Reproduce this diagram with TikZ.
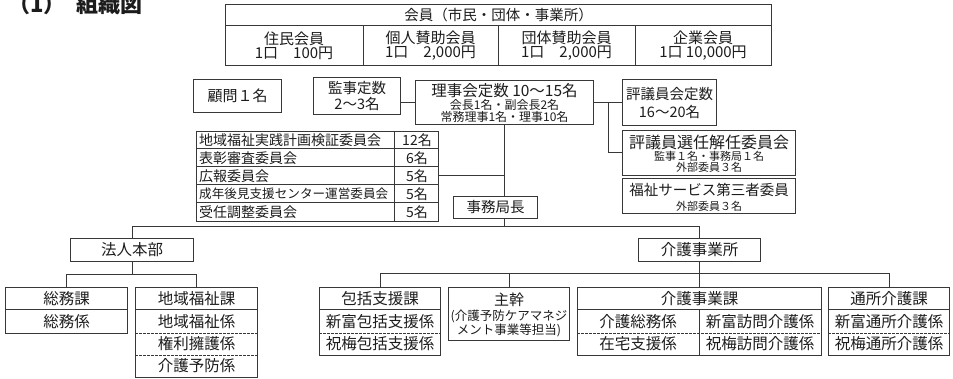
\documentclass[tikz,border=0pt]{standalone}
\usepackage{fontspec}
\setmainfont{Noto Sans CJK JP}
\usetikzlibrary{calc}
\definecolor{ln}{HTML}{383838}
\definecolor{tx}{HTML}{1C1C1C}
\newcommand\rowline[3]{\draw[#3] ($(#1.north west)+(0,#2)$) -- ($(#1.north east)+(0,#2)$);}
\newcommand\colline[4]{\draw[#4] ($(#1.north west)+(#2,#3)$) -- ($(#1.south west)+(#2,0)$);}
\begin{document}
\begin{tikzpicture}[x=1pt,y=-1pt,
  box/.style={draw=ln, line width=1pt, inner sep=0pt, anchor=north west},
  wh/.style 2 args={minimum width=#1pt, minimum height=#2pt},
  t/.style={inner sep=0pt, align=center, text=tx, font=\fontsize{15.5}{14}\selectfont},
  ts/.style={inner sep=0pt, align=center, text=tx, font=\fontsize{12}{11.7}\selectfont},
  tc/.style={inner sep=0pt, text=tx, font=\fontsize{14}{14}\selectfont},
  lnk/.style={draw=ln, line width=1pt},
  sl/.style={draw=ln, line width=1pt},
  dl/.style={draw=ln, line width=0.8pt, dash pattern=on 2.5pt off 1.5pt},
]
\useasboundingbox (0,0) rectangle (953,379);

% title
\node[inner sep=0pt, anchor=base west, text=tx, font=\fontsize{22}{22}\bfseries] (title) at (8,13) {（1）\hspace{11pt}組織図};

% membership table
\node[box, wh={546}{61}] (mem) at (225,4) {};
\rowline{mem}{22}{sl}
\colline{mem}{138}{22}{sl}
\colline{mem}{273}{22}{sl}
\colline{mem}{410}{22}{sl}
\node[t, font=\fontsize{14.5}{14}\selectfont] (memh) at ($(mem.north)+(0,11)$) {会員（市民・団体・事業所）};
\node[t, font=\fontsize{15}{14}\selectfont] (m1) at ($(mem.north west)+(69,42)$) {住民会員\\1口　100円};
\node[t, font=\fontsize{15}{14}\selectfont] (m2) at ($(mem.north west)+(205.5,42)$) {個人賛助会員\\1口　2,000円};
\node[t, font=\fontsize{15}{14}\selectfont] (m3) at ($(mem.north west)+(341.5,42)$) {団体賛助会員\\1口　2,000円};
\node[t, font=\fontsize{15}{14}\selectfont] (m4) at ($(mem.north west)+(478,42)$) {企業会員\\1口 10,000円};

% middle
\node[box, t, wh={88}{33}, font=\fontsize{15}{15}\selectfont] (kom) at (193,79) {顧問１名};
\node[box, t, wh={87}{37}, font=\fontsize{14.5}{16.5}\selectfont] (kan) at (313,77) {監事定数\\2～3名};
\node[box, wh={178}{44}] (rij) at (415,80) {};
\node[t, font=\fontsize{15.5}{15}\selectfont] (rijt) at ($(rij.north)+(0,11)$) {理事会定数 10～15名};
\node[ts] (rijs) at ($(rij.north)+(0,31)$) {会長1名・副会長2名\\常務理事1名・理事10名};
\node[box, t, wh={94}{46}, font=\fontsize{14.5}{18}\selectfont] (hyo) at (622,79) {評議員会定数\\16～20名};
\node[box, wh={173}{45}] (sen) at (622,130) {};
\node[t, font=\fontsize{16}{15}\selectfont] (sent) at ($(sen.north)+(0,12)$) {評議員選任解任委員会};
\node[ts, font=\fontsize{11}{10.5}\selectfont] (sens) at ($(sen.north)+(0,32)$) {監事１名・事務局１名\\外部委員３名};
\node[box, wh={173}{35}] (fuk) at (622,178) {};
\node[t, font=\fontsize{14.5}{14}\selectfont] (fukt) at ($(fuk.north)+(0,12)$) {福祉サービス第三者委員};
\node[ts, font=\fontsize{11}{11}\selectfont] (fuks) at ($(fuk.north)+(0,28)$) {外部委員３名};

\draw[lnk] (rij.west) -- (rij.west -| kan.east);
\draw[lnk] (rij.east) -- (rij.east -| hyo.west);
\coordinate (br) at ($(rij.east)!0.5!(rij.east -| hyo.west)$);
\draw[lnk] (br) |- (sen.west);

% committees
\node[box, wh={242}{90}] (cmt) at (196,131) {};
\rowline{cmt}{18}{sl}
\rowline{cmt}{36}{sl}
\rowline{cmt}{54}{sl}
\rowline{cmt}{72}{sl}
\colline{cmt}{198}{0}{sl}
\node[tc, anchor=west] (c1) at ($(cmt.north west)+(3,9)$) {地域福祉実践計画検証委員会};
\node[tc, anchor=west] (c2) at ($(cmt.north west)+(3,27)$) {表彰審査委員会};
\node[tc, anchor=west] (c3) at ($(cmt.north west)+(3,45)$) {広報委員会};
\node[tc, anchor=west, font=\fontsize{12.6}{14}\selectfont] (c4) at ($(cmt.north west)+(3,63)$) {成年後見支援センター運営委員会};
\node[tc, anchor=west] (c5) at ($(cmt.north west)+(3,81)$) {受任調整委員会};
\node[tc] (n1) at ($(cmt.north west)+(221,9)$) {12名};
\node[tc] (n2) at ($(cmt.north west)+(221,27)$) {6名};
\node[tc] (n3) at ($(cmt.north west)+(221,45)$) {5名};
\node[tc] (n4) at ($(cmt.north west)+(221,63)$) {5名};
\node[tc] (n5) at ($(cmt.north west)+(221,81)$) {5名};

\node[box, t, wh={84}{22}, font=\fontsize{14.5}{14}\selectfont] (jim) at (453,196) {事務局長};
\draw[lnk] (rij.south) -- (rij.south |- jim.north);
\draw[lnk] (cmt.east |- n3) -- (n3 -| rij.south);
\coordinate (hub) at (rij.south |- 0,227);
\draw[lnk] (rij.south |- jim.south) -- (hub);

\node[box, t, wh={123}{23}] (hon) at (70,238) {法人本部};
\node[box, t, wh={122}{23}] (kai) at (638,238) {介護事業所};
\draw[lnk] (hon.north) -- (hon.north |- hub) -- (kai.north |- hub) -- (kai.north);

% 法人本部 branch
\node[box, wh={122}{46}] (som) at (5,287) {};
\rowline{som}{23}{sl}
\node[t] (som1) at ($(som.north)+(0,11.5)$) {総務課};
\node[t] (som2) at ($(som.north)+(0,34.5)$) {総務係};
\node[box, wh={122}{90}] (chi) at (135,287) {};
\rowline{chi}{23}{sl}
\rowline{chi}{46}{dl}
\rowline{chi}{68}{dl}
\node[t] (chi1) at ($(chi.north)+(0,11.5)$) {地域福祉課};
\node[t] (chi2) at ($(chi.north)+(0,34.5)$) {地域福祉係};
\node[t] (chi3) at ($(chi.north)+(0,57)$) {権利擁護係};
\node[t] (chi4) at ($(chi.north)+(0,79)$) {介護予防係};
\coordinate (hub2) at (hon.south |- 0,275);
\draw[lnk] (hon.south) -- (hub2);
\draw[lnk] (som.north) -- (som.north |- hub2) -- (chi.north |- hub2) -- (chi.north);

% 介護事業所 branch
\node[box, wh={121}{68}] (hok) at (319,287) {};
\rowline{hok}{23}{sl}
\rowline{hok}{46}{dl}
\node[t] (hok1) at ($(hok.north)+(0,11.5)$) {包括支援課};
\node[t] (hok2) at ($(hok.north)+(0,34.5)$) {新富包括支援係};
\node[t] (hok3) at ($(hok.north)+(0,57)$) {祝梅包括支援係};

\node[box, wh={121}{53}] (shu) at (448,287) {};
\node[t, font=\fontsize{15}{14}\selectfont] (shu1) at ($(shu.north)+(0,12.5)$) {主幹};
\node[t, font=\fontsize{12.5}{13.5}\selectfont] (shu2) at ($(shu.north)+(0,36.5)$) {(介護予防ケアマネジ\\メント事業等担当)};

\node[box, wh={244}{68}] (kjg) at (577,287) {};
\rowline{kjg}{23}{sl}
\rowline{kjg}{46}{dl}
\colline{kjg}{122}{23}{sl}
\node[t] (kjg1) at ($(kjg.north)+(0,11.5)$) {介護事業課};
\node[t] (kjg2) at ($(kjg.north west)+(61,34.5)$) {介護総務係};
\node[t] (kjg3) at ($(kjg.north west)+(61,57)$) {在宅支援係};
\node[t] (kjg4) at ($(kjg.north west)+(183,34.5)$) {新富訪問介護係};
\node[t] (kjg5) at ($(kjg.north west)+(183,57)$) {祝梅訪問介護係};

\node[box, wh={121}{68}] (tsu) at (828,287) {};
\rowline{tsu}{23}{sl}
\rowline{tsu}{46}{dl}
\node[t] (tsu1) at ($(tsu.north)+(0,11.5)$) {通所介護課};
\node[t] (tsu2) at ($(tsu.north)+(0,34.5)$) {新富通所介護係};
\node[t] (tsu3) at ($(tsu.north)+(0,57)$) {祝梅通所介護係};

\coordinate (hub3) at (kai.south |- 0,274);
\draw[lnk] (kai.south) -- (kjg.north);
\draw[lnk] (hok.north) -- (hok.north |- hub3) -- (tsu.north |- hub3) -- (tsu.north);
\draw[lnk] (shu.north) -- (shu.north |- hub3);
\end{tikzpicture}
\end{document}
